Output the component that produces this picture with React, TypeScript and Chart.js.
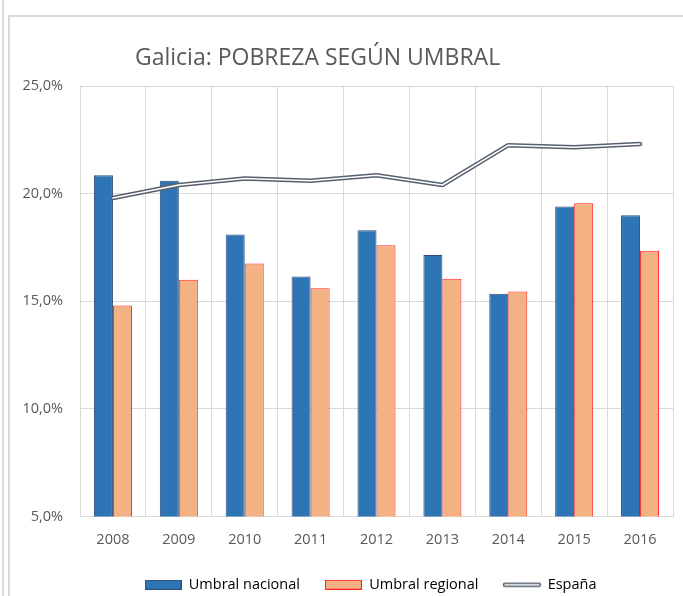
import React, { useEffect, useRef } from "react";
import { Chart, registerables } from "chart.js";

Chart.register(...registerables);

const TITLE = "Galicia: POBREZA SEGÚN UMBRAL";
const years = ["2008", "2009", "2010", "2011", "2012", "2013", "2014", "2015", "2016"];
const umbralNacional = [20.85, 20.6, 18.1, 16.15, 18.3, 17.15, 15.35, 19.4, 19.0];
const umbralRegional = [14.8, 16.0, 16.75, 15.6, 17.6, 16.05, 15.45, 19.55, 17.35];
const espana = [19.8, 20.4, 20.7, 20.6, 20.85, 20.4, 22.25, 22.15, 22.3];
const yTicks = [5, 10, 15, 20, 25];

const FONT = '"Open Sans", "Liberation Sans", sans-serif';
const TEXT = "#595959";
const GRID = "#d9d9d9";
const BLUE = "#2E75B6";
const BLUE_EDGE = "#2F4F78";
const ORANGE = "#F4B183";
const ORANGE_EDGE = "#FF2020";
const LINE_OUTER = "#56606E";

function makeBox(fill: string, stroke: string) {
  const c = document.createElement("canvas");
  c.width = 37;
  c.height = 10;
  const ctx = c.getContext("2d")!;
  ctx.fillStyle = fill;
  ctx.fillRect(0, 0, 37, 10);
  ctx.strokeStyle = stroke;
  ctx.lineWidth = 1;
  ctx.strokeRect(0.5, 0.5, 36, 9);
  return c;
}

function makeDoubleLine() {
  const c = document.createElement("canvas");
  c.width = 40;
  c.height = 6;
  const ctx = c.getContext("2d")!;
  ctx.lineCap = "round";
  ctx.strokeStyle = LINE_OUTER;
  ctx.lineWidth = 4.5;
  ctx.beginPath();
  ctx.moveTo(3, 3);
  ctx.lineTo(37, 3);
  ctx.stroke();
  ctx.strokeStyle = "#ffffff";
  ctx.lineWidth = 1.5;
  ctx.beginPath();
  ctx.moveTo(3, 3);
  ctx.lineTo(37, 3);
  ctx.stroke();
  return c;
}

const titlePlugin = {
  id: "customTitle",
  afterLayout(chart: any) {
    // nudge the legend slightly left, as in the reference
    const lg = chart.legend;
    if (lg) {
      lg.left -= 6;
      lg.right -= 6;
    }
  },
  afterDraw(chart: any) {
    const ctx = chart.ctx;
    ctx.save();
    ctx.font = `23px ${FONT}`;
    ctx.fillStyle = TEXT;
    ctx.textAlign = "center";
    ctx.textBaseline = "alphabetic";
    ctx.fillText(TITLE, chart.width * 0.457, 48);
    ctx.restore();
  },
};

export default function App() {
  const ref = useRef<HTMLCanvasElement | null>(null);

  useEffect(() => {
    if (!ref.current) return;
    const boxBlue = makeBox(BLUE, BLUE_EDGE);
    const boxOrange = makeBox(ORANGE, ORANGE_EDGE);
    const dbl = makeDoubleLine();

    const chart = new Chart(ref.current, {
      type: "bar",
      data: {
        labels: years,
        datasets: [
          {
            type: "line",
            label: "España",
            data: espana,
            borderColor: "#ffffff",
            borderWidth: 1.5,
            pointRadius: 0,
            tension: 0,
            borderCapStyle: "round",
            borderJoinStyle: "round",
            order: -1,
          } as any,
          {
            type: "line",
            label: "España",
            data: espana,
            borderColor: LINE_OUTER,
            borderWidth: 4.5,
            pointRadius: 0,
            tension: 0,
            borderCapStyle: "round",
            borderJoinStyle: "round",
            order: 0,
          } as any,
          {
            label: "Umbral nacional",
            data: umbralNacional,
            backgroundColor: BLUE,
            borderColor: BLUE_EDGE,
            borderWidth: 1,
            categoryPercentage: 0.577,
            barPercentage: 1,
            order: 1,
          },
          {
            label: "Umbral regional",
            data: umbralRegional,
            backgroundColor: ORANGE,
            borderColor: ORANGE_EDGE,
            borderWidth: 1,
            categoryPercentage: 0.577,
            barPercentage: 1,
            order: 2,
          },
        ],
      },
      options: {
        animation: false,
        responsive: false,
        layout: { padding: { top: 69, left: 0, right: 10, bottom: 0 } },
        scales: {
          x: {
            offset: true,
            grid: { color: GRID, drawTicks: false, offset: true },
            border: { color: GRID },
            ticks: { color: TEXT, font: { family: FONT, size: 14.5 }, padding: 15 },
            afterFit: (s: any) => {
              s.height = 36;
            },
          },
          y: {
            min: 5,
            max: 25,
            afterBuildTicks: (s: any) => {
              s.ticks = yTicks.map((v) => ({ value: v }));
            },
            grid: { color: GRID, drawTicks: false },
            border: { color: GRID },
            ticks: {
              color: TEXT,
              font: { family: FONT, size: 14.5 },
              padding: 17,
              callback: (v: any) => Number(v).toFixed(1).replace(".", ",") + "%",
            },
            afterFit: (s: any) => {
              s.width = 70;
            },
          },
        },
        plugins: {
          title: { display: false },
          tooltip: { enabled: false },
          legend: {
            position: "bottom",
            fullSize: false,
            labels: {
              usePointStyle: true,
              pointStyleWidth: 37,
              boxHeight: 10,
              padding: 25,
              color: TEXT,
              font: { family: FONT, size: 14.5 },
              generateLabels: () => [
                { text: "Umbral nacional", pointStyle: boxBlue, fillStyle: BLUE, strokeStyle: BLUE_EDGE, lineWidth: 0, hidden: false, datasetIndex: 2 },
                { text: "Umbral regional", pointStyle: boxOrange, fillStyle: ORANGE, strokeStyle: ORANGE_EDGE, lineWidth: 0, hidden: false, datasetIndex: 3 },
                { text: "España", pointStyle: dbl, fillStyle: "#fff", strokeStyle: LINE_OUTER, lineWidth: 0, hidden: false, datasetIndex: 1 },
              ] as any,
            },
          },
        },
      } as any,
      plugins: [titlePlugin],
    });
    return () => chart.destroy();
  }, []);

  return (
    <div style={{ position: "absolute", left: 0, top: 0, width: 683, height: 596, overflow: "hidden", background: "#fff" }}>
      <div style={{ position: "absolute", left: 2, top: 0, width: 2, height: 596, background: GRID }} />
      <div
        style={{
          position: "absolute",
          left: 8,
          top: 15,
          width: 700,
          height: 700,
          borderTop: `2px solid ${GRID}`,
          borderLeft: `2px solid ${GRID}`,
        }}
      >
        <canvas ref={ref} width={673} height={585} style={{ display: "block" }} />
      </div>
    </div>
  );
}
